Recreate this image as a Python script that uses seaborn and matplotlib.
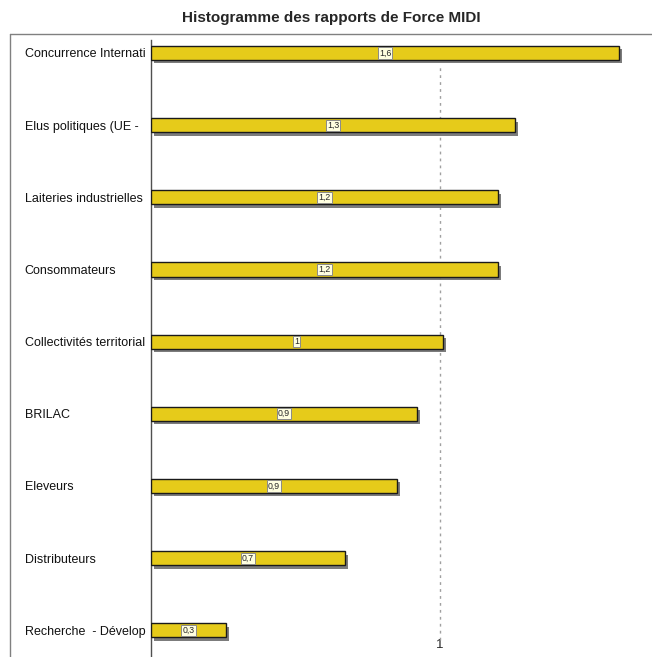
import matplotlib
matplotlib.use("Agg")
import matplotlib.pyplot as plt
import matplotlib.patheffects as pe
from matplotlib.lines import Line2D
import seaborn as sns
import pandas as pd

# donnees
acteurs = ["Concurrence Internati", "Elus politiques (UE -", "Laiteries industrielles",
           "Consommateurs", "Collectivités territorial", "BRILAC", "Eleveurs",
           "Distributeurs", "Recherche  - Dévelop"]
force = [1.62, 1.26, 1.20, 1.20, 1.01, 0.92, 0.85, 0.67, 0.26]
etiquettes = ["1,6", "1,3", "1,2", "1,2", "1", "0,9", "0,9", "0,7", "0,3"]

df = pd.DataFrame({"acteur": acteurs, "force": force})

sns.set_style("white")
plt.rcParams["font.family"] = ["Liberation Sans", "DejaVu Sans"]

fig = plt.figure(figsize=(6.52, 6.57), dpi=100)
ax = fig.add_axes([151 / 652, 0, 501 / 652, 617 / 657])

sns.barplot(data=df, x="force", y="acteur", orient="h", color="#e6cb1a",
            width=0.195, edgecolor="#1a1a1a", linewidth=1, saturation=1, ax=ax,
            zorder=3)
for bar in ax.patches:
    bar.set_path_effects([pe.SimplePatchShadow(offset=(2.2, -2.5), shadow_rgbFace="#6e6e6e", alpha=0.9),
                          pe.Normal()])

# etiquettes de valeur au milieu des barres
for i, (v, lab) in enumerate(zip(force, etiquettes)):
    ax.text(v / 2, i, lab, ha="center", va="center", fontsize=6.3, zorder=5,
            bbox=dict(boxstyle="square,pad=0.12", fc="#ffffe0", ec="#8a8a8a", lw=0.7))

ax.set_xlim(0, 501 / 289)
ax.set_ylim(8.37, -0.18)
ax.set_xticks([1])
ax.set_xticklabels(["1"], fontsize=9.5)
ax.axvline(1, ymin=0.027, ymax=0.96, color="#a0a0a0", ls=(0, (2, 3)), lw=1, zorder=1)
ax.tick_params(axis="x", direction="in", length=0, pad=-13)
ax.tick_params(axis="y", length=0, pad=91)
for lab in ax.get_yticklabels():
    lab.set_ha("left")
    lab.set_fontsize(9)
    lab.set_color("#111111")
ax.set_xlabel("")
ax.set_ylabel("")
for s in ["top", "right", "bottom"]:
    ax.spines[s].set_visible(False)
ax.spines["left"].set_color("#505050")
ax.spines["left"].set_linewidth(1)

# cadre
fig.add_artist(Line2D([10 / 652, 10 / 652], [0, 1 - 34 / 657], transform=fig.transFigure,
                      color="#808080", lw=1))
fig.add_artist(Line2D([10 / 652, 1], [1 - 34 / 657, 1 - 34 / 657], transform=fig.transFigure,
                      color="#808080", lw=1))

fig.text(331 / 652, 1 - 18 / 657, "Histogramme des rapports de Force MIDI", ha="center", va="center",
         fontsize=11, fontweight="bold")

fig.savefig("out.png", dpi=100)
